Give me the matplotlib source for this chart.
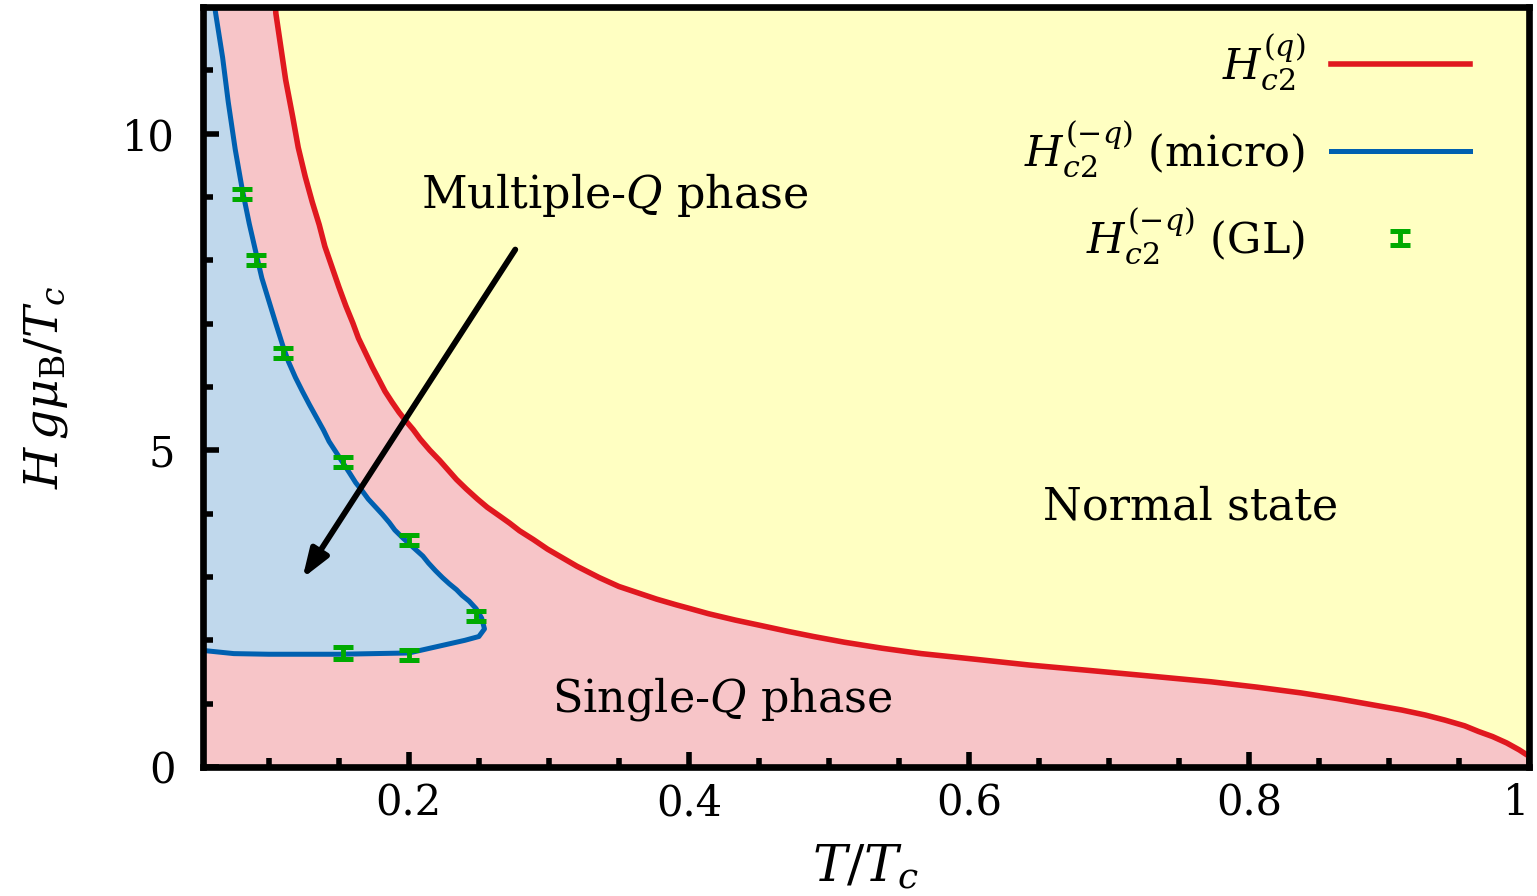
import matplotlib
matplotlib.use("Agg")
import matplotlib.pyplot as plt
from matplotlib.legend_handler import HandlerErrorbar
from matplotlib.container import ErrorbarContainer
import numpy as np

# ---------------- data ----------------
# H_c2^(q) : upper critical field of the single-Q state
hc2_q_T = [0.104, 0.105, 0.108, 0.112, 0.117, 0.121, 0.126, 0.131, 0.136, 0.140,
           0.145, 0.150, 0.155, 0.160, 0.164, 0.169, 0.174, 0.179, 0.183, 0.188,
           0.193, 0.198, 0.203, 0.208, 0.215, 0.222, 0.228, 0.234, 0.241, 0.249,
           0.256, 0.265, 0.272, 0.279, 0.289, 0.299, 0.320, 0.336, 0.350, 0.377,
           0.391, 0.401, 0.414, 0.433, 0.450, 0.471, 0.489, 0.511, 0.538, 0.566,
           0.605, 0.643, 0.688, 0.732, 0.773, 0.806, 0.837, 0.863, 0.886, 0.909,
           0.926, 0.940, 0.954, 0.964, 0.974, 0.984, 0.993, 1.000]
hc2_q_H = [12.3, 11.9, 11.45, 10.85, 10.27, 9.78, 9.32, 8.92, 8.56, 8.22,
           7.90, 7.58, 7.28, 7.01, 6.77, 6.54, 6.31, 6.10, 5.93, 5.76,
           5.60, 5.46, 5.33, 5.18, 5.00, 4.84, 4.69, 4.54, 4.39, 4.23,
           4.10, 3.96, 3.85, 3.73, 3.59, 3.44, 3.17, 2.99, 2.85, 2.65,
           2.56, 2.50, 2.42, 2.32, 2.24, 2.14, 2.06, 1.97, 1.875, 1.79,
           1.70, 1.61, 1.52, 1.43, 1.345, 1.26, 1.17, 1.08, 0.99, 0.90,
           0.82, 0.74, 0.65, 0.56, 0.48, 0.38, 0.27, 0.17]

# H_c2^(-q) (microscopic calculation): boundary of the multiple-Q phase
hc2_mq_T = [0.060, 0.062, 0.067, 0.071, 0.076, 0.081, 0.086, 0.091, 0.095, 0.100,
            0.105, 0.110, 0.114, 0.119, 0.124, 0.129, 0.134, 0.139, 0.143, 0.148,
            0.153, 0.158, 0.162, 0.167, 0.171, 0.176, 0.181, 0.186, 0.190, 0.196,
            0.203, 0.210, 0.214, 0.219, 0.224, 0.229, 0.234, 0.238, 0.243, 0.248,
            0.252, 0.254, 0.250, 0.240, 0.226, 0.212, 0.200, 0.150, 0.100, 0.075,
            0.053, 0.040]
hc2_mq_H = [12.2, 11.9, 11.2, 10.5, 9.75, 9.12, 8.58, 8.10, 7.72, 7.36,
            7.00, 6.65, 6.40, 6.15, 5.93, 5.72, 5.52, 5.32, 5.14, 4.97,
            4.80, 4.63, 4.49, 4.35, 4.23, 4.11, 3.99, 3.86, 3.74, 3.61,
            3.47, 3.33, 3.22, 3.10, 2.99, 2.89, 2.80, 2.71, 2.62, 2.50,
            2.35, 2.18, 2.06, 2.00, 1.93, 1.86, 1.80, 1.78, 1.78, 1.79,
            1.84, 1.85]

# H_c2^(-q) (Ginzburg-Landau) points with small error bars
gl_T = [0.081, 0.091, 0.110, 0.153, 0.200, 0.248, 0.200, 0.153]
gl_H = [9.05, 8.00, 6.54, 4.82, 3.59, 2.38, 1.77, 1.80]
gl_err = [0.08, 0.08, 0.08, 0.08, 0.08, 0.08, 0.08, 0.10]

# arrow (tail near the label, head inside the multiple-Q region)
arrow_tail = (0.276, 8.17)
arrow_head = (0.124, 2.98)

x_ticks = [0.2, 0.4, 0.6, 0.8, 1.0]
x_ticklabels = ["0.2", "0.4", "0.6", "0.8", "1"]
y_ticks = [0, 5, 10]
y_ticklabels = ["0", "5", "10"]
xlim = (0.053, 1.0)
ylim = (0.0, 12.0)

# ---------------- style ----------------
c_yellow = "#FFFFC2"
c_pink = "#F7C5C8"
c_lblue = "#C0D8EC"
c_red = "#E0181F"
c_blue = "#0060B0"
c_green = "#00AA00"

plt.rcParams["font.family"] = ["DejaVu Serif"]
plt.rcParams["mathtext.fontset"] = "dejavuserif"

fig = plt.figure(figsize=(15.37, 8.96), dpi=100)
ax = fig.add_axes([0.1321, 0.144, 0.8627, 0.8482])
ax.set_facecolor(c_yellow)

# regions (below the tick marks)
ax.fill_between(np.r_[xlim[0] - 0.02, hc2_q_T], 0, np.r_[ylim[1] + 0.5, hc2_q_H],
                color=c_pink, lw=0, zorder=0.8)
ax.fill(np.r_[hc2_mq_T, hc2_mq_T[-1], hc2_mq_T[0]],
        np.r_[hc2_mq_H, ylim[1] + 0.5, ylim[1] + 0.5],
        color=c_lblue, lw=0, zorder=0.9)

# curves
ax.plot(hc2_q_T, hc2_q_H, color=c_red, lw=4.0, zorder=3,
        label=r"$H_{c2}^{(q)}$", solid_joinstyle="round")
ax.plot(hc2_mq_T, hc2_mq_H, color=c_blue, lw=3.6, zorder=3,
        label=r"$H_{c2}^{(-q)}$ (micro)", solid_joinstyle="round")
eb = ax.errorbar(gl_T, gl_H, yerr=gl_err, fmt="none", ecolor=c_green,
                 elinewidth=3.5, capsize=7, capthick=3.6, zorder=5,
                 label=r"$H_{c2}^{(-q)}$ (GL)")

ax.annotate("", xy=arrow_head, xytext=arrow_tail,
            arrowprops=dict(arrowstyle="-|>,head_length=0.85,head_width=0.3",
                            lw=4.2, color="black", shrinkA=0, shrinkB=0,
                            mutation_scale=20),
            zorder=4)

# text labels
ax.text(0.347, 8.83, r"Multiple-$Q$ phase", fontsize=32, ha="center",
        va="baseline", zorder=6)
ax.text(0.424, 0.87, r"Single-$Q$ phase", fontsize=32, ha="center",
        va="baseline", zorder=6)
ax.text(0.7586, 3.90, "Normal state", fontsize=32, ha="center",
        va="baseline", zorder=6)

# axes
ax.set_xlim(*xlim)
ax.set_ylim(*ylim)
ax.set_xticks(x_ticks)
ax.set_xticklabels(x_ticklabels)
ax.set_yticks(y_ticks)
ax.set_yticklabels(y_ticklabels)
ax.set_xticks(np.arange(0.1, 1.0, 0.05), minor=True)
ax.set_yticks(np.arange(1, 12, 1), minor=True)
ax.tick_params(which="both", direction="in", top=False, right=False,
               width=4, color="black", labelsize=30)
ax.tick_params(axis="x", which="major", length=10.5, pad=11)
ax.tick_params(axis="x", which="minor", length=6.5)
ax.tick_params(axis="y", which="major", length=11.5, pad=20)
ax.tick_params(axis="y", which="minor", length=7)
ax.get_xticklabels()[-1].set_horizontalalignment("right")
for s in ax.spines.values():
    s.set_linewidth(4.8)
    s.set_zorder(10)

ax.set_xlabel(r"$T/T_c$", fontsize=37, labelpad=14)
ax.set_ylabel(r"$H\,g\mu_{\rm B}/T_c$", fontsize=34, labelpad=38)

leg = ax.legend(loc="upper right", bbox_to_anchor=(0.9555, 0.968),
                frameon=False, markerfirst=False, fontsize=31,
                handlelength=3.23, handletextpad=0.6, labelspacing=0.62,
                borderpad=0, borderaxespad=0,
                handler_map={ErrorbarContainer: HandlerErrorbar(yerr_size=0.16)})

fig.savefig("out.png", dpi=100)
